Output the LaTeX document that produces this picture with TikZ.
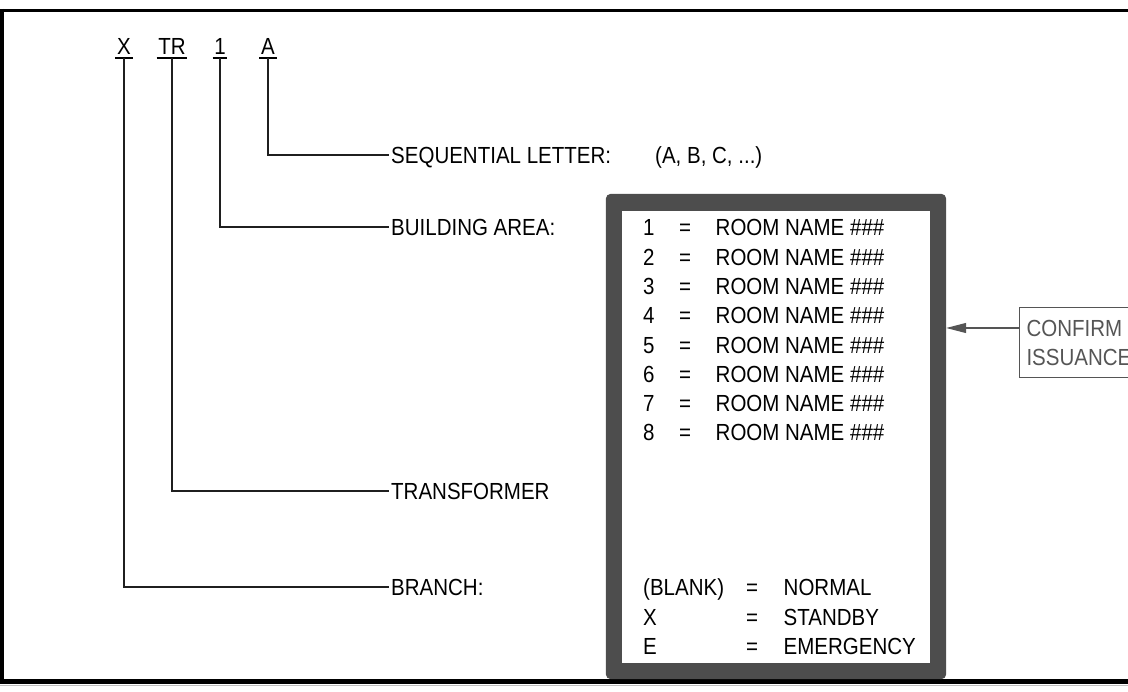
\documentclass[tikz,border=0pt]{standalone}
\usepackage{fontspec}
\setmainfont{Liberation Sans}[FakeStretch=0.88]
\usetikzlibrary{arrows.meta}
\definecolor{boxgray}{HTML}{4D4D4D}
\definecolor{notegray}{HTML}{555555}
\begin{document}
\begin{tikzpicture}[x=1pt,y=-1pt,
  every node/.style={font=\fontsize{23.3}{29}\selectfont},
  lbl/.style={anchor=west, inner xsep=2pt, inner ysep=0pt, text height=16.7pt, text depth=0pt},
  code/.style={anchor=base, inner xsep=1.5pt, inner ysep=3pt, text depth=0pt},
  conn/.style={line width=1.6pt, draw=black!88},
  frame/.style={draw=black}]
\clip (0,0) rectangle (1128,692);
% frame
\draw[frame, line width=2.5pt] (0,10.5) -- (1128,10.5);
\draw[frame, line width=4.5pt] (0,681.5) -- (1128,681.5);
\draw[gray!50, line width=1.5pt] (0,685.5) -- (1128,685.5);
\draw[frame, line width=4pt] (2,9) -- (2,684);
% code letters
\node[code] (cx) at (124,55) {X};
\node[code] (ctr) at (172,55) {TR};
\node[code] (c1) at (220,55) {1};
\node[code] (ca) at (268,55) {A};
\foreach \n in {cx,ctr,c1,ca}
  \draw[line width=1.5pt] (\n.south west) -- (\n.south east);
% labels
\node[lbl] (lseq) at (389,155) {SEQUENTIAL LETTER:};
\node[lbl] (lseqv) at (653,155) {(A, B, C, ...)};
\node[lbl] (lbld) at (389,227) {BUILDING AREA:};
\node[lbl] (ltr) at (389,491) {TRANSFORMER};
\node[lbl] (lbr) at (389,587) {BRANCH:};
% connectors
\draw[conn] (ca.south) |- (lseq.west);
\draw[conn] (c1.south) |- (lbld.west);
\draw[conn] (ctr.south) |- (ltr.west);
\draw[conn] (cx.south) |- (lbr.west);
% legend box
\node[inner sep=0pt, minimum width=340pt, minimum height=485pt] (box) at (776,436.5) {};
\fill[boxgray, rounded corners=5pt] (box.north west) rectangle (box.south east);
\fill[white] ([xshift=16pt,yshift=-17pt]box.north west) rectangle ([xshift=-16pt,yshift=16pt]box.south east);
\foreach \i in {1,...,8} {
  \pgfmathsetmacro{\yy}{227.5+29.3*(\i-1)}
  \node[lbl] (n\i) at (641,\yy) {\i};
  \node[lbl] (e\i) at (677,\yy) {=};
  \node[lbl] (t\i) at (713.5,\yy) {ROOM NAME \#\#\#};
}
\node[lbl] (bn1) at (641,587.5) {(BLANK)};
\node[lbl] (be1) at (744,587.5) {=};
\node[lbl] (bt1) at (781.5,587.5) {NORMAL};
\node[lbl] (bn2) at (641,617) {X};
\node[lbl] (be2) at (744,617) {=};
\node[lbl] (bt2) at (781.5,617) {STANDBY};
\node[lbl] (bn3) at (641,646.5) {E};
\node[lbl] (be3) at (744,646.5) {=};
\node[lbl] (bt3) at (781.5,646.5) {EMERGENCY};
% confirm note
\node[draw=notegray, line width=1pt, text=notegray, anchor=north west, align=left,
      inner xsep=7pt, inner ysep=12.5pt] (conf) at (1019,307) {CONFIRM\\ISSUANCE};
\coordinate (cin) at ([yshift=-21pt]conf.north west);
\draw[notegray, line width=1.2pt, -{Triangle[length=20pt,width=10pt]}] (cin) -- (cin -| box.east);
\end{tikzpicture}
\end{document}
